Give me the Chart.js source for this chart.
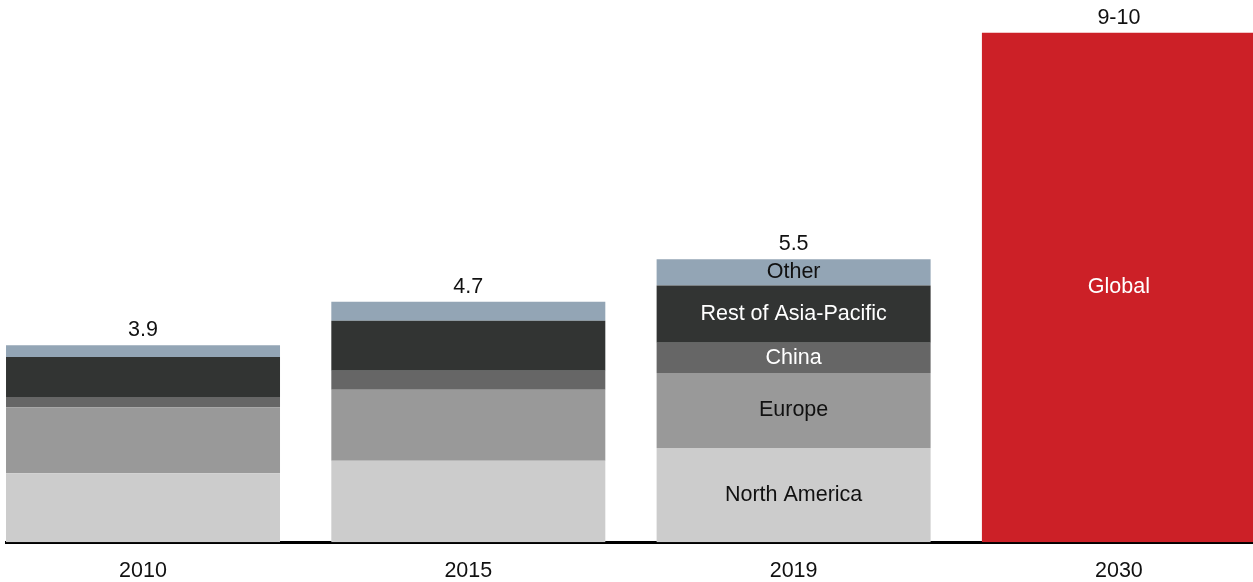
<!DOCTYPE html>
<html>
<head>
<meta charset="utf-8">
<script src="https://cdn.jsdelivr.net/npm/chart.js@4"></script>
<style>
  html, body { margin: 0; padding: 0; background: #fff; }
  #wrap { width: 1253px; height: 582px; position: relative; }
</style>
</head>
<body>
<div id="wrap"><canvas id="myChart"></canvas></div>
<script>
'use strict';
const years = ['2010', '2015', '2019', '2030'];
const totals = ['3.9', '4.7', '5.5', '9-10'];

// stacked regions (bottom to top)
const northAmerica = [1.35, 1.59, 1.84, null];
const europe = [1.29, 1.39, 1.47, null];
const china = [0.20, 0.37, 0.59, null];
const restOfAsia = [0.78, 0.98, 1.12, null];
const other = [0.23, 0.37, 0.51, null];
const globalTotal = [null, null, null, 9.96];

// which years get the names written inside the bar
const namedYears = ['2019', '2030'];

const FONT = '"Liberation Sans", Arial, sans-serif';
const FONT_SIZE = 21.5;

function toPoints(values) {
  let points = [];
  for (let i = 0; i < values.length; i++) {
    if (values[i] !== null) {
      points.push({ x: i, y: values[i] });
    }
  }
  return points;
}

function makeSet(label, values, color, textColor) {
  return {
    label: label,
    data: toPoints(values),
    backgroundColor: color,
    textColor: textColor,
    borderWidth: 0,
    barPercentage: 1,
    categoryPercentage: 0.8423
  };
}

const barLabels = {
  id: 'barLabels',
  afterDatasetsDraw(chart) {
    const ctx = chart.ctx;
    const tops = [];
    ctx.save();
    ctx.font = FONT_SIZE + 'px ' + FONT;
    ctx.textAlign = 'center';
    ctx.textBaseline = 'middle';
    chart.data.datasets.forEach((ds, d) => {
      const meta = chart.getDatasetMeta(d);
      meta.data.forEach((bar, i) => {
        const idx = ds.data[i].x;
        if (tops[idx] === undefined || bar.y < tops[idx].y) {
          tops[idx] = { x: bar.x, y: bar.y };
        }
        if (namedYears.includes(years[idx])) {
          ctx.fillStyle = ds.textColor;
          ctx.fillText(ds.label, bar.x, (bar.y + bar.base) / 2);
        }
      });
    });
    ctx.fillStyle = '#111';
    for (let i = 0; i < tops.length; i++) {
      if (tops[i]) {
        ctx.fillText(totals[i], tops[i].x, tops[i].y - 15);
      }
    }
    ctx.restore();
  }
};

const ctx = document.getElementById('myChart').getContext('2d');
const chart = new Chart(ctx, {
  type: 'bar',
  data: {
    datasets: [
      makeSet('North America', northAmerica, '#cccccc', '#111'),
      makeSet('Europe', europe, '#999999', '#111'),
      makeSet('China', china, '#666666', '#fff'),
      makeSet('Rest of Asia-Pacific', restOfAsia, '#323433', '#fff'),
      makeSet('Other', other, '#93a5b5', '#111'),
      makeSet('Global', globalTotal, '#cc2027', '#fff')
    ]
  },
  options: {
    responsive: true,
    maintainAspectRatio: false,
    animation: false,
    layout: { padding: { left: 6, right: 0, top: 0, bottom: -18 } },
    plugins: {
      legend: { display: false },
      tooltip: { enabled: false }
    },
    scales: {
      x: {
        type: 'linear',
        stacked: true,
        offset: false,
        min: -0.4212,
        max: 3.4122,
        grid: { display: false, drawTicks: false },
        border: { display: true, color: '#000', width: 3 },
        ticks: {
          stepSize: 1,
          includeBounds: false,
          autoSkip: false,
          maxRotation: 0,
          padding: 16,
          color: '#111',
          font: { family: FONT, size: FONT_SIZE },
          callback: (v) => (Number.isInteger(v) && years[v] !== undefined ? years[v] : '')
        }
      },
      y: {
        stacked: true,
        display: false,
        min: 0,
        max: 10.6
      }
    }
  },
  plugins: [barLabels]
});
</script>
</body>
</html>
